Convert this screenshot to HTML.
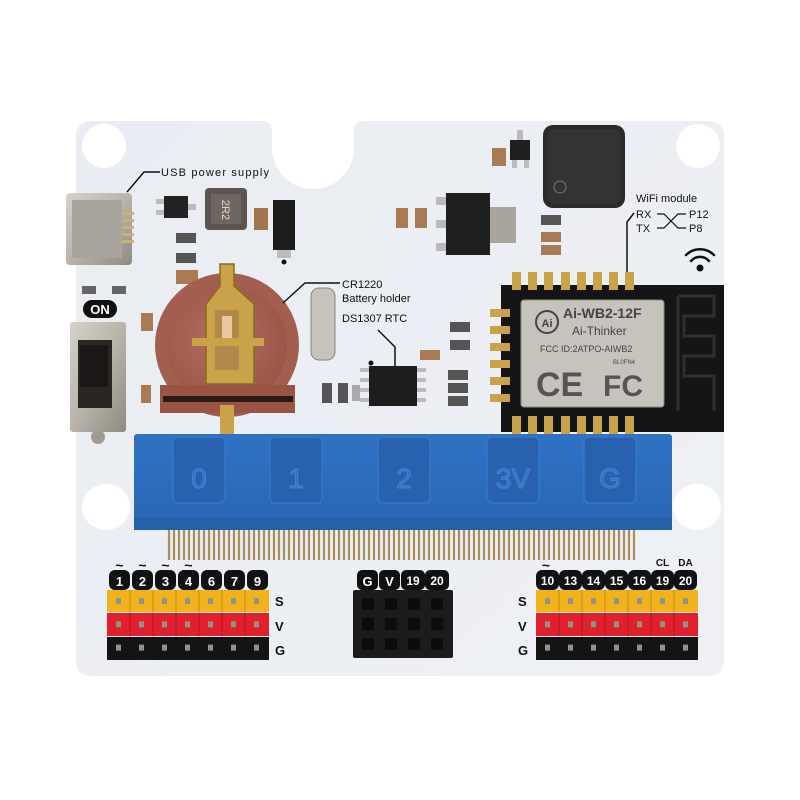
<!DOCTYPE html>
<html><head><meta charset="utf-8"><style>
html,body{margin:0;padding:0;background:#fff}
svg{display:block}
text{font-family:"Liberation Sans",Arial,sans-serif}
</style></head><body>
<svg width="800" height="800" viewBox="0 0 800 800" xmlns="http://www.w3.org/2000/svg">
<defs>
<linearGradient id="brd" x1="0" y1="0" x2="1" y2="1"><stop offset="0" stop-color="#e9edf3"/><stop offset="1" stop-color="#eef0f4"/></linearGradient>
<linearGradient id="blue" x1="0" y1="0" x2="0" y2="1"><stop offset="0" stop-color="#2f72c4"/><stop offset="1" stop-color="#2a66b3"/></linearGradient>
<linearGradient id="metal" x1="0" y1="0" x2="1" y2="1"><stop offset="0" stop-color="#d6d2c8"/><stop offset="0.5" stop-color="#b9b4aa"/><stop offset="1" stop-color="#8e8a82"/></linearGradient>
<radialGradient id="bat" cx="0.45" cy="0.45" r="0.6"><stop offset="0" stop-color="#b07060"/><stop offset="1" stop-color="#9a5444"/></radialGradient>
<pattern id="pin" x="107" y="590" width="23" height="23.3" patternUnits="userSpaceOnUse"><rect x="9" y="8" width="5" height="6" fill="#8f9488"/></pattern>
<pattern id="pin2" x="536" y="590" width="23" height="23.3" patternUnits="userSpaceOnUse"><rect x="9" y="8" width="5" height="6" fill="#8f9488"/></pattern>
</defs>
<path d="M92 121 H262 Q272 121 272 131 V148 A41 41 0 0 0 354 148 V131 Q354 121 364 121 H708 Q724 121 724 137 V660 Q724 676 708 676 H92 Q76 676 76 660 V137 Q76 121 92 121 Z" fill="url(#brd)"/>
<circle cx="104" cy="146" r="22" fill="#fff"/>
<circle cx="698" cy="146" r="22" fill="#fff"/>
<ellipse cx="106" cy="507" rx="24" ry="23" fill="#fff"/>
<ellipse cx="697" cy="507" rx="24" ry="23" fill="#fff"/>

<rect x="66" y="193" width="66" height="72" rx="4" fill="url(#metal)"/>
<rect x="72" y="200" width="50" height="58" fill="#aaa59c"/>
<rect x="122" y="212" width="12" height="3" fill="#c9b27a"/><rect x="122" y="219" width="12" height="3" fill="#c9b27a"/><rect x="122" y="226" width="12" height="3" fill="#c9b27a"/><rect x="122" y="233" width="12" height="3" fill="#c9b27a"/><rect x="122" y="240" width="12" height="3" fill="#c9b27a"/>
<text x="161" y="176" font-size="11" fill="#111" textLength="108">USB power supply</text>
<polyline points="160,172 144,172 127,192" fill="none" stroke="#111" stroke-width="1.5"/>

<rect x="164" y="196" width="24" height="22" fill="#222"/>
<rect x="156" y="199" width="8" height="5" fill="#bbb"/><rect x="156" y="210" width="8" height="5" fill="#bbb"/><rect x="188" y="204" width="8" height="6" fill="#bbb"/>
<rect x="205" y="188" width="42" height="42" rx="4" fill="#5b554f"/>
<rect x="211" y="194" width="30" height="30" fill="#6d6760"/>
<text x="226" y="214" font-size="11" fill="#ddd" text-anchor="middle" transform="rotate(90 226 210)">2R2</text>
<rect x="254" y="208" width="14" height="22" fill="#a07550"/>
<rect x="273" y="200" width="22" height="50" fill="#1d1d1d"/>
<rect x="277" y="250" width="14" height="8" fill="#bbb"/>
<rect x="176" y="233" width="20" height="10" fill="#555"/><rect x="176" y="253" width="20" height="10" fill="#555"/>
<rect x="176" y="270" width="22" height="14" fill="#a87a56"/>
<circle cx="284" cy="262" r="2.5" fill="#111"/>

<rect x="83" y="300" width="34" height="18" rx="9" fill="#111"/>
<text x="100" y="314" font-size="13" font-weight="bold" fill="#fff" text-anchor="middle">ON</text>
<rect x="82" y="286" width="14" height="8" fill="#666"/><rect x="112" y="286" width="14" height="8" fill="#666"/>
<rect x="70" y="322" width="56" height="110" rx="3" fill="url(#metal)"/>
<rect x="78" y="340" width="34" height="68" fill="#2a2624"/>
<rect x="80" y="345" width="28" height="42" fill="#1a1716"/>
<circle cx="98" cy="437" r="7" fill="#a09a90"/>
<rect x="141" y="313" width="12" height="18" fill="#a87a56"/>
<rect x="141" y="385" width="10" height="18" fill="#a87a56"/>

<circle cx="227" cy="345" r="72" fill="#a25e4e"/>
<circle cx="227" cy="345" r="60" fill="url(#bat)"/>
<rect x="160" y="385" width="135" height="28" fill="#9a5444"/>
<rect x="163" y="396" width="130" height="6" fill="#2a1a14"/>
<path d="M220 264 h14 v22 l20 18 v80 h-48 v-80 l14 -18z" fill="#c9a24a" stroke="#8a6a20" stroke-width="1.5"/>
<rect x="215" y="310" width="24" height="60" fill="#b4874a"/>
<rect x="222" y="316" width="10" height="26" fill="#e8c8a0"/>
<rect x="192" y="338" width="72" height="8" fill="#c9a24a"/>
<rect x="220" y="405" width="14" height="30" fill="#c9a24a"/>
<text x="342" y="288" font-size="11" fill="#111">CR1220</text>
<text x="342" y="302" font-size="11" fill="#111">Battery holder</text>
<polyline points="340,283 305,283 283,303" fill="none" stroke="#111" stroke-width="1.5"/>

<rect x="311" y="288" width="24" height="72" rx="8" fill="#c8c3ba" stroke="#8a857c"/>
<text x="342" y="322" font-size="11" fill="#111">DS1307 RTC</text>
<polyline points="378,330 395,347 395,367" fill="none" stroke="#111" stroke-width="1.5"/>
<rect x="369" y="366" width="48" height="40" fill="#1d1d1d"/>
<g fill="#bbb"><rect x="360" y="368" width="9" height="4"/><rect x="360" y="378" width="9" height="4"/><rect x="360" y="388" width="9" height="4"/><rect x="360" y="398" width="9" height="4"/><rect x="417" y="368" width="9" height="4"/><rect x="417" y="378" width="9" height="4"/><rect x="417" y="388" width="9" height="4"/><rect x="417" y="398" width="9" height="4"/></g>
<circle cx="371" cy="363" r="2.5" fill="#111"/>
<rect x="322" y="383" width="10" height="20" fill="#555"/><rect x="338" y="383" width="10" height="20" fill="#555"/><rect x="352" y="385" width="8" height="16" fill="#aaa"/>
<rect x="420" y="350" width="20" height="10" fill="#a87a56"/>
<rect x="450" y="322" width="20" height="10" fill="#555"/><rect x="450" y="340" width="20" height="10" fill="#555"/>
<rect x="448" y="370" width="20" height="10" fill="#555"/><rect x="448" y="383" width="20" height="10" fill="#555"/><rect x="448" y="396" width="20" height="10" fill="#555"/>

<rect x="436" y="197" width="12" height="8" fill="#bbb"/><rect x="436" y="220" width="12" height="8" fill="#bbb"/><rect x="436" y="243" width="12" height="8" fill="#bbb"/>
<rect x="446" y="193" width="44" height="62" fill="#1f1f1f"/>
<rect x="490" y="207" width="26" height="36" fill="#aaa59c"/>
<rect x="396" y="208" width="12" height="20" fill="#a87a56"/><rect x="415" y="208" width="12" height="20" fill="#a87a56"/>
<rect x="492" y="148" width="14" height="18" fill="#a87a56"/>
<rect x="510" y="140" width="20" height="20" fill="#1f1f1f"/>
<rect x="517" y="130" width="6" height="10" fill="#bbb"/><rect x="512" y="160" width="5" height="8" fill="#bbb"/><rect x="524" y="160" width="5" height="8" fill="#bbb"/>
<rect x="543" y="125" width="82" height="83" rx="10" fill="#2b2b2b"/>
<rect x="547" y="129" width="74" height="75" rx="8" fill="#333"/>
<circle cx="560" cy="187" r="6" fill="none" stroke="#777"/>
<rect x="541" y="215" width="20" height="10" fill="#555"/><rect x="541" y="232" width="20" height="10" fill="#a87a56"/><rect x="541" y="245" width="20" height="10" fill="#a87a56"/>

<text x="636" y="202" font-size="11" fill="#111">WiFi module</text>
<text x="636" y="218" font-size="11" fill="#111">RX</text>
<text x="636" y="232" font-size="11" fill="#111">TX</text>
<text x="689" y="218" font-size="11" fill="#111">P12</text>
<text x="689" y="232" font-size="11" fill="#111">P8</text>
<path d="M657 214 h7 l14 14 h8 M657 228 h7 l14 -14 h8" fill="none" stroke="#111" stroke-width="1.2"/>
<polyline points="634,213 627,222 627,272" fill="none" stroke="#111" stroke-width="1.5"/>
<g fill="none" stroke="#111" stroke-width="2.5" stroke-linecap="round"><path d="M686 255 a20 20 0 0 1 28 0"/><path d="M691 261 a12 12 0 0 1 18 0"/></g>
<circle cx="700" cy="268" r="3.5" fill="#111"/>

<rect x="501" y="285" width="223" height="147" fill="#151515"/>
<g fill="#c9a24a"><rect x="512" y="272" width="9" height="18"/><rect x="528" y="272" width="9" height="18"/><rect x="544" y="272" width="9" height="18"/><rect x="561" y="272" width="9" height="18"/><rect x="577" y="272" width="9" height="18"/><rect x="593" y="272" width="9" height="18"/><rect x="609" y="272" width="9" height="18"/><rect x="625" y="272" width="9" height="18"/>
<rect x="490" y="309" width="20" height="8"/><rect x="490" y="326" width="20" height="8"/><rect x="490" y="343" width="20" height="8"/><rect x="490" y="360" width="20" height="8"/><rect x="490" y="377" width="20" height="8"/><rect x="490" y="394" width="20" height="8"/>
<rect x="512" y="416" width="9" height="18"/><rect x="528" y="416" width="9" height="18"/><rect x="544" y="416" width="9" height="18"/><rect x="561" y="416" width="9" height="18"/><rect x="577" y="416" width="9" height="18"/><rect x="593" y="416" width="9" height="18"/><rect x="609" y="416" width="9" height="18"/><rect x="625" y="416" width="9" height="18"/></g>
<rect x="521" y="300" width="143" height="107" rx="3" fill="#c6c3bd" stroke="#8d8a85"/>
<path d="M678 296 v115 M678 296 h36 v20 h-30 v20 h30 v20 h-30 v20 h30 v35" fill="none" stroke="#2f2f2f" stroke-width="3"/>
<circle cx="547" cy="322" r="11" fill="none" stroke="#444" stroke-width="2"/>
<text x="547" y="327" font-size="11" font-weight="bold" fill="#444" text-anchor="middle">Ai</text>
<text x="563" y="318" font-size="14" font-weight="bold" fill="#444">Ai-WB2-12F</text>
<text x="572" y="335" font-size="12" fill="#444">Ai-Thinker</text>
<text x="540" y="352" font-size="9" fill="#444">FCC ID:2ATPO-AIWB2</text>
<text x="613" y="364" font-size="6" fill="#444">BL0FN4</text>
<text x="536" y="396" font-size="34" font-weight="bold" fill="#555">CE</text>
<text x="603" y="396" font-size="30" font-weight="bold" fill="#555">FC</text>

<g stroke="#a88e5c" stroke-width="2.2">
<path d="M169 530 V560 M174 530 V560 M179 530 V560 M184 530 V560 M189 530 V560 M194 530 V560 M199 530 V560 M204 530 V560 M209 530 V560 M214 530 V560 M219 530 V560 M224 530 V560 M229 530 V560 M234 530 V560 M239 530 V560 M244 530 V560 M249 530 V560 M254 530 V560 M259 530 V560 M264 530 V560 M269 530 V560 M274 530 V560 M279 530 V560 M284 530 V560 M289 530 V560 M294 530 V560 M299 530 V560 M304 530 V560 M309 530 V560 M314 530 V560 M319 530 V560 M324 530 V560 M329 530 V560 M334 530 V560 M339 530 V560 M344 530 V560 M349 530 V560 M354 530 V560 M359 530 V560 M364 530 V560 M369 530 V560 M374 530 V560 M379 530 V560 M384 530 V560 M389 530 V560 M394 530 V560 M399 530 V560 M404 530 V560 M409 530 V560 M414 530 V560 M419 530 V560 M424 530 V560 M429 530 V560 M434 530 V560 M439 530 V560 M444 530 V560 M449 530 V560 M454 530 V560 M459 530 V560 M464 530 V560 M469 530 V560 M474 530 V560 M479 530 V560 M484 530 V560 M489 530 V560 M494 530 V560 M499 530 V560 M504 530 V560 M509 530 V560 M514 530 V560 M519 530 V560 M524 530 V560 M529 530 V560 M534 530 V560 M539 530 V560 M544 530 V560 M549 530 V560 M554 530 V560 M559 530 V560 M564 530 V560 M569 530 V560 M574 530 V560 M579 530 V560 M584 530 V560 M589 530 V560 M594 530 V560 M599 530 V560 M604 530 V560 M609 530 V560 M614 530 V560 M619 530 V560 M624 530 V560 M629 530 V560 M634 530 V560"/>
</g>
<rect x="134" y="434" width="538" height="96" rx="3" fill="url(#blue)"/>
<rect x="134" y="518" width="538" height="12" fill="#2660a8"/>
<g fill="#2862ae" stroke="#3a7fd0" stroke-width="1">
<rect x="173" y="437" width="52" height="66" rx="5"/><rect x="270" y="437" width="52" height="66" rx="5"/><rect x="378" y="437" width="52" height="66" rx="5"/><rect x="487" y="437" width="52" height="66" rx="5"/><rect x="584" y="437" width="52" height="66" rx="5"/>
</g>
<g font-size="28" fill="#2f70c2" stroke="#4a8ad8" stroke-width="0.8" text-anchor="middle">
<text x="199" y="488">0</text><text x="296" y="488">1</text><text x="404" y="488">2</text><text x="513" y="488">3V</text><text x="610" y="488">G</text>
</g>

<g font-size="13" font-weight="bold" text-anchor="middle">
<g fill="#111">
<rect x="109" y="570" width="21" height="20" rx="6"/><rect x="132" y="570" width="21" height="20" rx="6"/><rect x="155" y="570" width="21" height="20" rx="6"/><rect x="178" y="570" width="21" height="20" rx="6"/><rect x="201" y="570" width="21" height="20" rx="6"/><rect x="224" y="570" width="21" height="20" rx="6"/><rect x="247" y="570" width="21" height="20" rx="6"/>
</g>
<g fill="#fff"><text x="119.5" y="586">1</text><text x="142.5" y="586">2</text><text x="165.5" y="586">3</text><text x="188.5" y="586">4</text><text x="211.5" y="586">6</text><text x="234.5" y="586">7</text><text x="257.5" y="586">9</text></g>
<g fill="#111" font-size="14"><text x="119.5" y="570">~</text><text x="142.5" y="570">~</text><text x="165.5" y="570">~</text><text x="188.5" y="570">~</text><text x="546" y="570">~</text></g>
</g>
<rect x="107" y="590" width="162" height="22" fill="#f2b21c"/>
<rect x="107" y="613" width="162" height="23" fill="#e0202c"/>
<rect x="107" y="637" width="162" height="23" fill="#141414"/>
<rect x="107" y="590" width="162" height="70" fill="url(#pin)"/>
<g stroke="#00000033" stroke-width="1"><path d="M130 590 V660 M153 590 V660 M176 590 V660 M199 590 V660 M222 590 V660 M245 590 V660"/></g>
<g font-size="13" font-weight="bold" fill="#111"><text x="275" y="606">S</text><text x="275" y="631">V</text><text x="275" y="655">G</text>
<text x="518" y="606">S</text><text x="518" y="631">V</text><text x="518" y="655">G</text></g>

<g fill="#111"><rect x="357" y="570" width="21" height="20" rx="5"/><rect x="379" y="570" width="21" height="20" rx="5"/><rect x="401" y="570" width="24" height="20" rx="5"/><rect x="425" y="570" width="24" height="20" rx="5"/></g>
<g font-size="13" font-weight="bold" fill="#fff" text-anchor="middle"><text x="367.5" y="586">G</text><text x="389.5" y="586">V</text><text x="413" y="585" font-size="12">19</text><text x="437" y="585" font-size="12">20</text></g>
<rect x="353" y="590" width="100" height="68" rx="2" fill="#1c1c1c"/>
<g fill="#0c0c0c"><rect x="362" y="598" width="12" height="12"/><rect x="385" y="598" width="12" height="12"/><rect x="408" y="598" width="12" height="12"/><rect x="431" y="598" width="12" height="12"/><rect x="362" y="618" width="12" height="12"/><rect x="385" y="618" width="12" height="12"/><rect x="408" y="618" width="12" height="12"/><rect x="431" y="618" width="12" height="12"/><rect x="362" y="638" width="12" height="12"/><rect x="385" y="638" width="12" height="12"/><rect x="408" y="638" width="12" height="12"/><rect x="431" y="638" width="12" height="12"/></g>

<g fill="#111"><rect x="536" y="570" width="23" height="20" rx="6"/><rect x="559" y="570" width="23" height="20" rx="6"/><rect x="582" y="570" width="23" height="20" rx="6"/><rect x="605" y="570" width="23" height="20" rx="6"/><rect x="628" y="570" width="23" height="20" rx="6"/><rect x="651" y="570" width="23" height="20" rx="6"/><rect x="674" y="570" width="23" height="20" rx="6"/></g>
<g font-size="12" font-weight="bold" fill="#fff" text-anchor="middle"><text x="547.5" y="585">10</text><text x="570.5" y="585">13</text><text x="593.5" y="585">14</text><text x="616.5" y="585">15</text><text x="639.5" y="585">16</text><text x="662.5" y="585">19</text><text x="685.5" y="585">20</text></g>
<g font-size="10" font-weight="bold" fill="#111" text-anchor="middle"><text x="662.5" y="566">CL</text><text x="685.5" y="566">DA</text></g>
<rect x="536" y="590" width="162" height="22" fill="#f2b21c"/>
<rect x="536" y="613" width="162" height="23" fill="#e0202c"/>
<rect x="536" y="637" width="162" height="23" fill="#141414"/>
<rect x="536" y="590" width="162" height="70" fill="url(#pin2)"/>
<g stroke="#00000033" stroke-width="1"><path d="M559 590 V660 M582 590 V660 M605 590 V660 M628 590 V660 M651 590 V660 M674 590 V660"/></g>
</svg>
</body></html>
